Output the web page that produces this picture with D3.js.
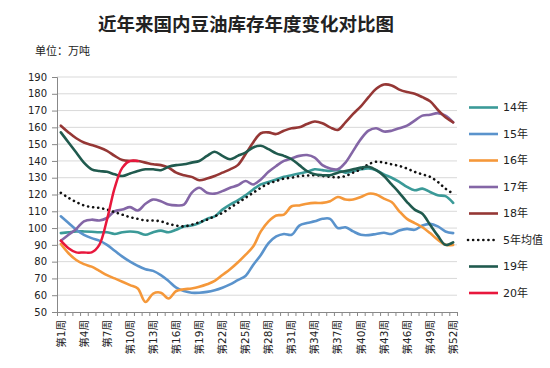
<!DOCTYPE html>
<html><head><meta charset="utf-8">
<script src="https://cdn.jsdelivr.net/npm/d3@7"></script>
<style>
html,body{margin:0;padding:0;background:#fff;}
svg{display:block;font-family:"DejaVu Sans","Noto Sans CJK SC",sans-serif;}
</style></head>
<body><svg id="c" width="550" height="368"></svg>
<script>
const weeks = d3.range(1, 53);
const yTicks = [50,60,70,80,90,100,110,120,130,140,150,160,170,180,190];
const seriesNames = ["14年","15年","16年","17年","18年","5年均值","19年","20年"];
const seriesColors = ["#3b9a98","#5a93cc","#f5983a","#8466a6","#953735","#111111","#205a4e","#e8173c"];

const s14 = [97,97.5,98,98,97.8,97.5,97.5,96.5,97.5,98,97.5,96,97.5,98.5,97.5,99,101,101.5,103,105.5,107,111,114,116.5,119.5,123,126,127.5,129,130.5,131.5,132.5,133.5,135,134.5,134,134.5,133,134,135,135.5,134.5,132,130,127.5,124.5,122.5,123.5,121.5,119.5,119,115];
const s15 = [107,103,99,96,94,92.5,90,86.5,83,80,77.5,75.5,74.5,72,68.5,64.5,62.5,61.5,61.5,62,63,64.5,66.5,69,71.5,78,84,91,95,96.5,96,101.5,103,104,105.5,105.5,100,100.5,98,96,95.8,96.5,97.2,96.5,98.5,99.5,99,101.5,102.5,101,98,97];
const s16 = [90.5,85,81,78.5,77,74.5,72,70,68,66,64,56,61,61.5,58,62.5,63.5,64,65,66.5,68.5,72,75.5,79.5,84,89,98,104,107.5,108,113,113.5,114.5,115,115,116,118.5,117,117,118.5,120.5,120,117.5,115.5,110,105.5,103,100.5,97,93,90,90];
const s17 = [92.5,96,99.5,104,105,104.5,106,110,111,112.5,110.5,114.5,117,116,114,113.5,114,121,124,121,120.5,122,124,125.5,128,126,129,133.5,137,140,141.5,143,143.5,142,137.5,135.5,135,139,146,153,158,159.5,157.5,158,159.5,161,164,167,167.5,168.5,167,163];
const s18 = [161,157,153.5,151,149.5,148,146,143,140.5,140,140,139,138,137.5,136,133,131.5,130.5,128.5,129.5,131,133,135,137.5,144,151,156.5,157,156,158,159.5,160,162,163.5,162.5,160,158.5,163,168,172.5,178,183,185.5,185,182.5,181,180,178,175.5,170.5,166,163];
const sAvg = [121,118,115.5,113.5,112.5,112,111,109.5,108,106.5,105.5,104.5,104.5,104,102.5,101.5,101,102,103.5,105,107,109,112,115,118,121,124,126.5,128,129.5,130,131,131.3,131.5,131,130.5,130.2,131,133,135,138,139.5,139,138,137,135.5,133.5,132,130.5,127.5,123.5,120.5];
const s19 = [157,151,145,139,135,134,133.5,132,131,132.5,134,135,135,134.5,136.5,137.5,138,139,140,143,145.5,143,141,143,145,148,149,147,144.5,143,141,137.5,134,132,131.5,131.5,133,134,135,136,136.5,134.5,131,126,121,115.5,111,108.5,102,95.5,90,91.5];
const s20 = [92.5,88,85.5,85.5,85.5,90,105,124,136,140,140];

const seriesValues = [s14,s15,s16,s17,s18,sAvg,s19,s20];

const svg = d3.select("#c");
const L = 57, R = 457, T = 77, B = 312;

const x = d3.scaleBand().domain(weeks).range([L, R]).padding(0);
const xc = w => x(w) + x.bandwidth() / 2;
const xEdge = d3.scaleLinear().domain([0, 52]).range([L, R]);
const y = d3.scaleLinear().domain([50, 190]).range([B, T]);

// title
svg.append("text").attr("x", 246).attr("y", 31).attr("text-anchor", "middle")
  .attr("font-family", "'Noto Sans CJK SC',sans-serif").attr("font-weight", "bold")
  .attr("font-size", 18.5).attr("fill", "#222").text("近年来国内豆油库存年度变化对比图");
svg.append("text").attr("x", 35).attr("y", 55)
  .attr("font-family", "'Noto Sans CJK SC',sans-serif")
  .attr("font-size", 11).attr("fill", "#222").text("单位：万吨");

// gridlines
svg.append("g").selectAll("line").data(yTicks.filter(v => v > 50)).join("line")
  .attr("x1", L).attr("x2", R).attr("y1", d => y(d)).attr("y2", d => y(d))
  .attr("stroke", "#d9d9d9").attr("stroke-width", 1);

// y axis
const gy = svg.append("g").attr("transform", `translate(${L},0)`)
  .call(d3.axisLeft(y).tickValues(yTicks).tickSize(5).tickPadding(5));
gy.select(".domain").attr("stroke", "#888");
gy.selectAll(".tick line").attr("stroke", "#888");
gy.selectAll(".tick text").attr("font-size", 10).attr("fill", "#222")
  .attr("font-family", "'DejaVu Sans',sans-serif");

// x axis boundary ticks
const gx = svg.append("g").attr("transform", `translate(0,${B})`)
  .call(d3.axisBottom(xEdge).tickValues(d3.range(0, 53)).tickSize(4).tickFormat(""));
gx.select(".domain").attr("stroke", "#888");
gx.selectAll(".tick line").attr("stroke", "#888");

// x labels
const labelWeeks = weeks.filter(w => (w - 1) % 3 === 0);
const gxl = svg.append("g").attr("transform", `translate(0,${B})`)
  .call(d3.axisBottom(x).tickValues(labelWeeks).tickSize(0).tickFormat(w => "第" + w + "周"));
gxl.select(".domain").remove();
gxl.selectAll(".tick text")
  .attr("font-size", 10.5).attr("fill", "#222")
  .attr("font-family", "'DejaVu Sans','Noto Sans CJK SC',sans-serif")
  .attr("text-anchor", "end").attr("dy", "0.35em")
  .attr("transform", "translate(0,8) rotate(-90)").attr("y", 0).attr("x", 0);

// lines
const line = d3.line().x((d, i) => xc(weeks[i])).y(d => y(d)).curve(d3.curveCatmullRom.alpha(0.5));
const gl = svg.append("g");
seriesValues.forEach((vals, i) => {
  const p = gl.append("path").datum(vals).attr("d", line).attr("fill", "none")
    .attr("stroke", seriesColors[i]).attr("stroke-linejoin", "round");
  if (seriesNames[i] === "5年均值") {
    p.attr("stroke-width", 2.6).attr("stroke-dasharray", "0.1 5").attr("stroke-linecap", "round");
  } else {
    p.attr("stroke-width", seriesNames[i] === "20年" ? 2.5 : 2.6).attr("stroke-linecap", "round");
  }
});

// legend
const lg = svg.append("g");
seriesNames.forEach((n, i) => {
  const ly = 107.5 + i * 26.5;
  const l = lg.append("line").attr("x1", 469).attr("x2", 498).attr("y1", ly).attr("y2", ly)
    .attr("stroke", seriesColors[i]).attr("stroke-width", 2.6);
  if (n === "5年均值") l.attr("stroke-dasharray", "0.1 5").attr("stroke-linecap", "round").attr("x1", 468);
  lg.append("text").attr("x", 503).attr("y", ly).attr("dy", "0.35em")
    .attr("font-size", 11).attr("fill", "#222")
    .attr("font-family", "'DejaVu Sans','Noto Sans CJK SC',sans-serif").text(n);
});
</script></body></html>
